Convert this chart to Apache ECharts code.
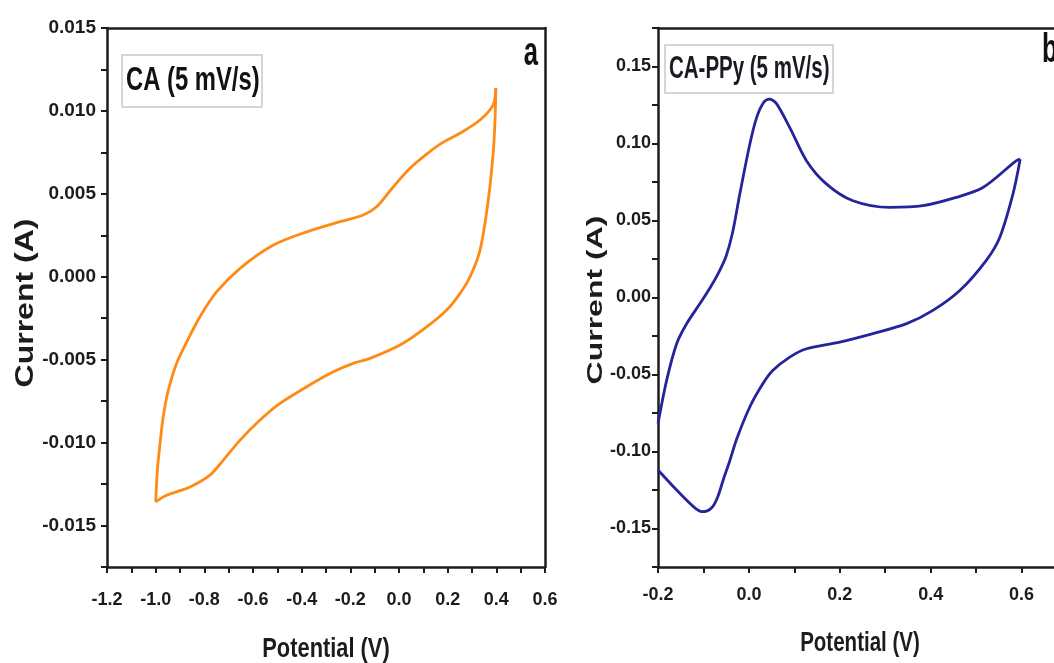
<!DOCTYPE html>
<html>
<head>
<meta charset="utf-8">
<script src="https://cdn.jsdelivr.net/npm/echarts@6/dist/echarts.min.js"></script>
<style>
html,body{margin:0;padding:0;background:#fff;}
#chart{width:1054px;height:663px;}
</style>
</head>
<body>
<div id="chart"></div>
<script>
// ---- data ----
// Panel a: CA, 5 mV/s  [potential V, current A]
const caForward = [[-1.0,-0.01357],[-0.993,-0.01166],[-0.982,-0.01005],[-0.969,-0.00844],[-0.948,-0.00683],[-0.914,-0.00522],[-0.872,-0.00392],[-0.818,-0.00241],[-0.749,-0.0009],[-0.653,0.00051],[-0.516,0.00191],[-0.379,0.00271],[-0.242,0.00332],[-0.147,0.00372],[-0.092,0.00422],[-0.023,0.00543],[0.045,0.00654],[0.114,0.0074],[0.169,0.008],[0.25,0.00865],[0.333,0.00945],[0.387,0.01036],[0.398,0.01138]];
const caReverse = [[0.398,0.01138],[0.395,0.00963],[0.388,0.00764],[0.367,0.00463],[0.333,0.00161],[0.292,0.0],[0.251,-0.001],[0.196,-0.00201],[0.114,-0.00302],[0.004,-0.00412],[-0.119,-0.00492],[-0.188,-0.00522],[-0.27,-0.00573],[-0.379,-0.00663],[-0.489,-0.00764],[-0.571,-0.00864],[-0.653,-0.00985],[-0.722,-0.01106],[-0.777,-0.01196],[-0.859,-0.01267],[-0.955,-0.01317],[-1.0,-0.01357]];
// Panel b: CA-PPy, 5 mV/s
const ppyForward = [[-0.2,-0.0818],[-0.181,-0.0538],[-0.159,-0.030],[-0.137,-0.017],[-0.108,-0.0041],[-0.085,0.0065],[-0.066,0.0165],[-0.05,0.027],[-0.036,0.042],[-0.02,0.0672],[0.002,0.0995],[0.017,0.1168],[0.032,0.1265],[0.045,0.1288],[0.06,0.1262],[0.09,0.1103],[0.127,0.0887],[0.171,0.0736],[0.229,0.0628],[0.31,0.0585],[0.383,0.0596],[0.456,0.065],[0.515,0.0714],[0.588,0.0887],[0.597,0.0898]];
const ppyReverse = [[0.597,0.0898],[0.581,0.0671],[0.552,0.039],[0.522,0.024],[0.464,0.0045],[0.405,-0.0084],[0.347,-0.017],[0.273,-0.0235],[0.2,-0.029],[0.127,-0.0333],[0.09,-0.0387],[0.053,-0.0473],[0.031,-0.0559],[0.002,-0.0711],[-0.027,-0.092],[-0.042,-0.106],[-0.056,-0.118],[-0.068,-0.129],[-0.08,-0.136],[-0.093,-0.1387],[-0.104,-0.139],[-0.122,-0.1358],[-0.159,-0.125],[-0.2,-0.112]];

// tick labels
const caXLabels = ['-1.2','-1.0','-0.8','-0.6','-0.4','-0.2','0.0','0.2','0.4','0.6'];
const caYLabels = ['-0.015','-0.010','-0.005','0.000','0.005','0.010','0.015'];
const ppyXLabels = ['-0.2','0.0','0.2','0.4','0.6'];
const ppyYLabels = ['-0.15','-0.10','-0.05','0.00','0.05','0.10','0.15'];

const legendA = 'CA (5 mV/s)';
const legendB = 'CA-PPy (5 mV/s)';
const xTitle = 'Potential (V)';
const yTitle = 'Current (A)';

// ---- styling ----
const SANS = "'Liberation Sans',Arial,sans-serif";
const INK = '#1c1c1c';

function labelFmt(list){
  return function(v){
    for (const s of list){ if (Math.abs(parseFloat(s) - v) < 1e-9) return s; }
    return '';
  };
}
function axisCommon(fontSize, margin, labels){
  return {
    axisLine:{show:true,onZero:false,lineStyle:{color:INK,width:2.5}},
    axisTick:{show:true,inside:false,length:6,lineStyle:{color:INK,width:2}},
    splitLine:{show:false},
    axisLabel:{show:true,margin:margin,color:INK,fontFamily:SANS,fontWeight:'bold',fontSize:fontSize,formatter:labelFmt(labels),showMinLabel:true,showMaxLabel:true},
  };
}
function borderAxis(gridIndex,pos,min,max){
  return {type:'value',gridIndex:gridIndex,position:pos,min:min,max:max,
    axisLine:{show:true,onZero:false,lineStyle:{color:INK,width:2.5}},
    axisTick:{show:false},axisLabel:{show:false},splitLine:{show:false}};
}

const chart = echarts.init(document.getElementById('chart'), null, {renderer:'canvas'});
const option = {
  backgroundColor:'#fff',
  animation:false,
  grid:[
    {left:107, top:28, width:438, bottom:96, show:false, containLabel:false, outerBoundsMode:'none'},
    {left:658, top:28, right:-13, bottom:96, show:false, containLabel:false, outerBoundsMode:'none'}
  ],
  xAxis:[
    Object.assign(axisCommon(18,24,caXLabels),{type:'value',gridIndex:0,position:'bottom',min:-1.2,max:0.6,interval:0.1}),
    Object.assign(axisCommon(18,19,ppyXLabels),{type:'value',gridIndex:1,position:'bottom',min:-0.2,max:0.7,interval:0.1}),
    borderAxis(0,'top',-1.2,0.6),
    borderAxis(1,'top',-0.2,0.7)
  ],
  yAxis:[
    Object.assign(axisCommon(19,11,caYLabels),{type:'value',gridIndex:0,position:'left',min:-0.0175,max:0.015,interval:0.0025}),
    Object.assign(axisCommon(18,7,ppyYLabels),{type:'value',gridIndex:1,position:'left',min:-0.175,max:0.175,interval:0.025}),
    borderAxis(0,'right',-0.0175,0.015)
  ],
  series:[
    {type:'line',xAxisIndex:0,yAxisIndex:0,data:caForward,showSymbol:false,smooth:0.3,lineStyle:{color:'#ff8a14',width:2.8},clip:true},
    {type:'line',xAxisIndex:0,yAxisIndex:0,data:caReverse,showSymbol:false,smooth:0.3,lineStyle:{color:'#ff8a14',width:2.8},clip:true},
    {type:'line',xAxisIndex:1,yAxisIndex:1,data:ppyForward,showSymbol:false,smooth:0.3,lineStyle:{color:'#25249a',width:2.8},clip:true},
    {type:'line',xAxisIndex:1,yAxisIndex:1,data:ppyReverse,showSymbol:false,smooth:0.3,lineStyle:{color:'#25249a',width:2.8},clip:true}
  ],
  graphic:[
    {type:'rect',shape:{x:122,y:55,width:140,height:52},style:{fill:'#fff',stroke:'#c9c9c9',lineWidth:1.5},z:10},
    {type:'text',x:126,y:81,scaleX:0.7,z:11,style:{text:legendA,fontFamily:SANS,fontWeight:'bold',fontSize:34,fill:'#111',verticalAlign:'middle',align:'left'}},
    {type:'rect',shape:{x:665,y:45,width:168,height:48},style:{fill:'#fff',stroke:'#c9c9c9',lineWidth:1.5},z:10},
    {type:'text',x:669,y:69,scaleX:0.64,z:11,style:{text:legendB,fontFamily:SANS,fontWeight:'bold',fontSize:32,fill:'#1a1a22',verticalAlign:'middle',align:'left'}},
    {type:'text',x:538,y:74,scaleX:0.64,z:11,style:{text:'a',fontFamily:SANS,fontWeight:'bold',fontSize:40,fill:'#111',verticalAlign:'bottom',align:'right'}},
    {type:'text',x:1042,y:71,scaleX:0.64,z:11,style:{text:'b',fontFamily:SANS,fontWeight:'bold',fontSize:40,fill:'#111',verticalAlign:'bottom',align:'left'}},
    {type:'text',x:326,y:649,scaleX:0.78,z:11,style:{text:xTitle,fontFamily:SANS,fontWeight:'bold',fontSize:28,fill:INK,verticalAlign:'middle',align:'center'}},
    {type:'text',x:860,y:644,scaleX:0.76,z:11,style:{text:xTitle,fontFamily:SANS,fontWeight:'bold',fontSize:27,fill:INK,verticalAlign:'middle',align:'center'}},
    {type:'text',x:26,y:303,rotation:Math.PI/2,scaleY:0.8,z:11,style:{text:yTitle,fontFamily:SANS,fontWeight:'bold',fontSize:32,fill:INK,verticalAlign:'middle',align:'center'}},
    {type:'text',x:596,y:300,rotation:Math.PI/2,scaleY:0.7,z:11,style:{text:yTitle,fontFamily:SANS,fontWeight:'bold',fontSize:32,fill:INK,verticalAlign:'middle',align:'center'}}
  ]
};
chart.setOption(option);
</script>
</body>
</html>
